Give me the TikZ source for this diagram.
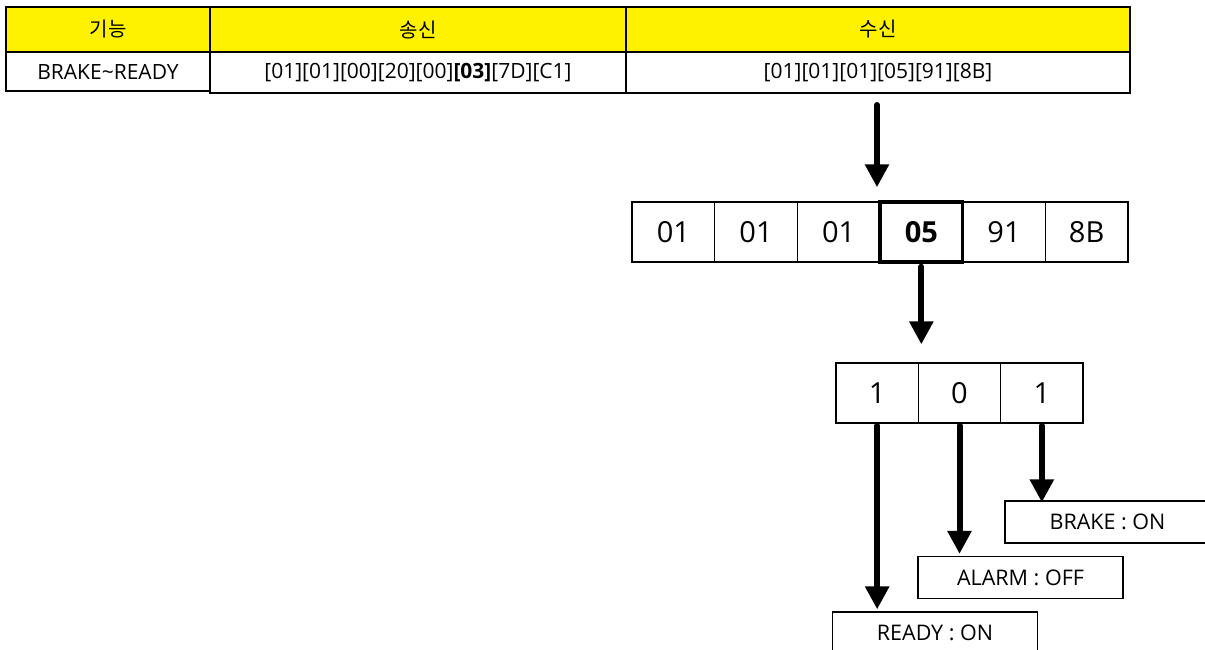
\documentclass[tikz,border=0pt]{standalone}
\usepackage{fontspec}
\setmainfont{Open Sans}
\newfontfamily\kr{Noto Sans CJK KR}
\usetikzlibrary{arrows.meta}
\begin{document}
\begin{tikzpicture}[x=1pt,y=-1pt,
  tbl/.style={draw=black,line width=1.3pt,inner sep=0pt,font=\fontsize{21}{25}\selectfont},
  hdr/.style={tbl,fill=yellow,font=\kr\fontsize{20}{24}\selectfont},
  byte/.style={draw=black,line width=1.3pt,inner sep=0pt,minimum width=82.67pt,minimum height=60pt,font=\fontsize{29}{34}\selectfont},
  bitbox/.style={byte,minimum width=82.33pt},
  lbl/.style={draw=black,line width=1.3pt,inner sep=0pt,minimum width=205pt,minimum height=42pt,font=\fontsize{21.5}{26}\selectfont},
  arr/.style={line width=6pt,line cap=round,-{Triangle[width=23pt,length=23pt]}}]
\useasboundingbox (0,0) rectangle (1205,649);
% table
\node[hdr,minimum width=204pt,minimum height=45pt] (h1) at (108,29.5) {기능};
\node[hdr,minimum width=416pt,minimum height=45pt] (h2) at (418,29.5) {송신};
\node[hdr,minimum width=504pt,minimum height=45pt] (h3) at (878,29.5) {수신};
\node[tbl,minimum width=204pt,minimum height=39pt] (d1) at (108,71.5) {BRAKE\textasciitilde READY};
\node[tbl,minimum width=416pt,minimum height=41pt] (d2) at (418,72.5) {[01][01][00][20][00]{\bfseries[03]}[7D][C1]};
\node[tbl,minimum width=504pt,minimum height=41pt] (d3) at (878,72.5) {[01][01][01][05][91][8B]};
% bytes
\node[byte] (b1) at (673.33,232) {01};
\node[byte] (b2) at (756.00,232) {01};
\node[byte] (b3) at (838.67,232) {01};
\node[byte] (b5) at (1004.00,232) {91};
\node[byte] (b6) at (1086.67,232) {8B};
\node[byte,line width=3.5pt,font=\fontsize{29}{34}\selectfont\bfseries] (b4) at (921.33,232) {05};
% bits
\node[bitbox] (t1) at (877.17,393) {1};
\node[bitbox] (t2) at (959.50,393) {0};
\node[bitbox] (t3) at (1041.83,393) {1};
% labels
\node[lbl] (brake) at (1107.5,522) {BRAKE : ON};
\node[lbl] (alarm) at (1020.5,577.5) {ALARM : OFF};
\node[lbl] (ready) at (935,633) {READY : ON};
% arrows
\coordinate (a1s) at (877,105);
\draw[arr,shorten >=13pt] (a1s) -- (a1s |- b4.north);
\draw[arr,shorten >=18pt] ([yshift=-3pt]b4.south) -- (b4.south |- t1.north);
\draw[arr,shorten >=2pt] ([yshift=-2pt]t1.south) -- (t1.south |- ready.north);
\draw[arr,shorten >=2pt] ([yshift=-2pt]t2.south) -- (t2.south |- alarm.north);
\draw[arr,shorten >=-2pt] ([yshift=-2pt]t3.south) -- (t3.south |- brake.north);
\end{tikzpicture}
\end{document}
